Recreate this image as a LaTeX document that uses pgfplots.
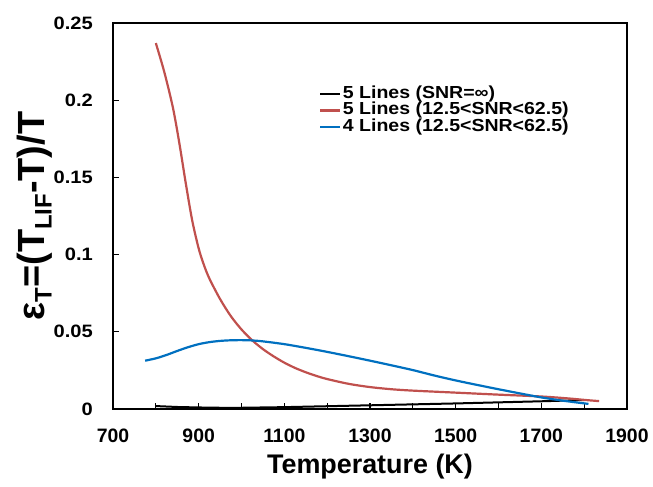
\documentclass[border=0pt]{standalone}
\usepackage{pgfplots}
\pgfplotsset{compat=1.18}
\usepackage{fontspec}
\setmainfont{Liberation Sans}
\newfontfamily\stretchfont[FakeStretch=1.12]{Liberation Sans}
\definecolor{exred}{RGB}{192,80,77}
\definecolor{exblue}{RGB}{0,112,192}
\begin{document}
\begin{tikzpicture}
\useasboundingbox (0,0) rectangle (653bp,487bp);
\begin{axis}[
  at={(113bp,78bp)}, anchor=south west,
  scale only axis, width=514bp, height=386bp,
  xmin=700, xmax=1900, ymin=0, ymax=0.25,
  axis line style={line width=1.4bp, black},
  xtick={700,900,1100,1300,1500,1700,1900},
  xticklabels={700,900,1100,1300,1500,1700,1900},
  minor xtick={800,1000,1200,1400,1600,1800},
  ytick={0,0.05,0.1,0.15,0.2,0.25},
  yticklabels={0,0.05,0.1,0.15,0.2,0.25},
  tick align=inside, xtick pos=bottom, ytick pos=left,
  major tick length=6bp, minor tick length=6bp,
  every tick/.style={line width=1.2bp, black},
  xticklabel style={font=\fontsize{19.5}{20}\selectfont\bfseries, inner sep=0pt, anchor=north, yshift=-20bp},
  yticklabel style={font=\stretchfont\fontsize{18}{20}\selectfont\bfseries, inner sep=0pt, anchor=east, xshift=-20bp},
  xlabel={Temperature (K)},
  xlabel style={font=\fontsize{27}{30}\selectfont\bfseries, at={(axis description cs:0.5,-0.150)}, anchor=center},
  ylabel={ε\raisebox{-0.2em}{\fontsize{24}{24}\selectfont T}=(T\raisebox{-0.2em}{\fontsize{24}{24}\selectfont LIF}-T)/T},
  ylabel style={font=\fontsize{38}{40}\selectfont\bfseries, at={(axis description cs:-0.153,0.5)}, anchor=center},
  legend style={draw=none, fill=none, at={(axis description cs:0.401,0.837)}, anchor=north west,
    inner sep=0pt, row sep=0pt, column sep=1bp,
    nodes={font=\stretchfont\fontsize{17.5}{18}\selectfont\bfseries, inner sep=0.4bp, text height=12bp, text depth=3.5bp}},
  legend cell align=left,
  legend image code/.code={\draw[#1] (0bp,0bp) -- (20bp,0bp);},
]
\addplot[black, line width=2bp] coordinates {
(800,0.0019) (850,0.0013) (900,0.0010) (950,0.0008) (1000,0.0008) (1050,0.0010) (1100,0.0012)
(1200,0.0018) (1300,0.0024) (1400,0.0030) (1500,0.0036) (1600,0.0043) (1700,0.0050) (1800,0.0058)};
\addlegendentry{5 Lines (SNR=∞)}
\addplot[exred, line width=2.2bp, smooth] coordinates {
(800,0.237) (820,0.218) (840,0.195) (855,0.172) (870,0.146) (885,0.122) (900,0.104) (912,0.0935)
(925,0.0845) (950,0.0712) (975,0.0602) (1000,0.0515) (1025,0.0445) (1050,0.0388) (1075,0.0341)
(1100,0.0300) (1125,0.0266) (1150,0.0238) (1175,0.0214) (1200,0.0194) (1250,0.0163) (1300,0.0142)
(1350,0.0128) (1400,0.0119) (1500,0.0106) (1600,0.0093) (1700,0.0081) (1765,0.0068) (1800,0.0059)
(1835,0.0051)};
\addlegendentry{5 Lines (12.5<SNR<62.5)}
\addplot[exblue, line width=2.2bp, smooth] coordinates {
(775,0.0313) (800,0.0328) (825,0.0350) (850,0.0376) (875,0.0400) (900,0.0420) (925,0.0433)
(950,0.0441) (975,0.0445) (1000,0.0446) (1025,0.0444) (1050,0.0438) (1100,0.0420) (1150,0.0396)
(1200,0.0370) (1250,0.0342) (1300,0.0313) (1350,0.0283) (1400,0.0252) (1450,0.0217) (1500,0.0185)
(1550,0.0156) (1600,0.0128) (1650,0.0101) (1700,0.0075) (1750,0.0054) (1810,0.0033)};
\addlegendentry{4 Lines (12.5<SNR<62.5)}
\end{axis}
\end{tikzpicture}
\end{document}
